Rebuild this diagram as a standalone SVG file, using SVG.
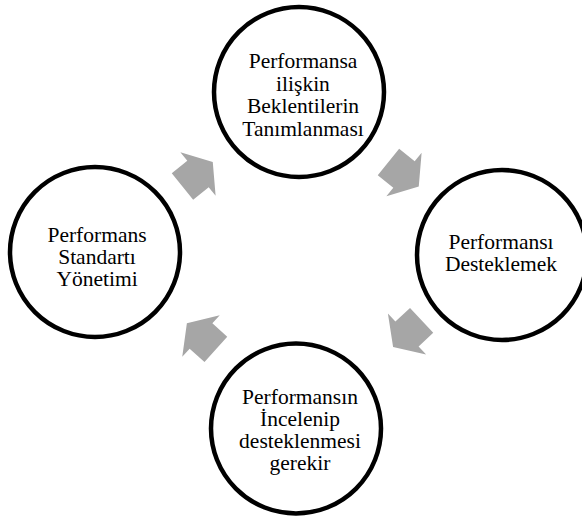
<svg xmlns="http://www.w3.org/2000/svg" xmlns:xlink="http://www.w3.org/1999/xlink" width="582" height="521" viewBox="0 0 582 521">
<style>
.node{fill:#fff;stroke:#000;stroke-width:4.5}
.lbl{font-family:"Liberation Serif","Times New Roman",serif;font-size:21.5px;fill:#000;text-anchor:middle}
.arr{fill:#a6a6a6;stroke:none}
</style>
<defs>
<polygon id="arrow" class="arr" points="-20,-17 0,-17 0,-28 19,0 0,28 0,17 -20,17"/>
</defs>
<rect width="582" height="521" fill="#fff"/>
<g id="connectors">
<use xlink:href="#arrow" href="#arrow" transform="translate(198,174) rotate(-39)"/>
<use xlink:href="#arrow" href="#arrow" transform="translate(404,174.5) rotate(39)"/>
<use xlink:href="#arrow" href="#arrow" transform="translate(407,334) rotate(137)"/>
<use xlink:href="#arrow" href="#arrow" transform="translate(201,336) rotate(-138)"/>
</g>
<g id="node-top">
<circle class="node" cx="299" cy="92" r="85"/>
<text class="lbl" x="303" y="68">Performansa</text>
<text class="lbl" x="303" y="90.5">ilişkin</text>
<text class="lbl" x="303" y="113">Beklentilerin</text>
<text class="lbl" x="303" y="135.5">Tanımlanması</text>
</g>
<g id="node-right">
<circle class="node" cx="502" cy="255" r="85"/>
<text class="lbl" x="501" y="248.5">Performansı</text>
<text class="lbl" x="501" y="270.5">Desteklemek</text>
</g>
<g id="node-bottom">
<circle class="node" cx="296" cy="428.5" r="85"/>
<text class="lbl" x="300" y="404">Performansın</text>
<text class="lbl" x="300" y="426">İncelenip</text>
<text class="lbl" x="300" y="448">desteklenmesi</text>
<text class="lbl" x="300" y="470">gerekir</text>
</g>
<g id="node-left">
<circle class="node" cx="95" cy="252" r="85"/>
<text class="lbl" x="97" y="241.5">Performans</text>
<text class="lbl" x="97" y="263.5">Standartı</text>
<text class="lbl" x="97" y="285.5">Yönetimi</text>
</g>
</svg>
